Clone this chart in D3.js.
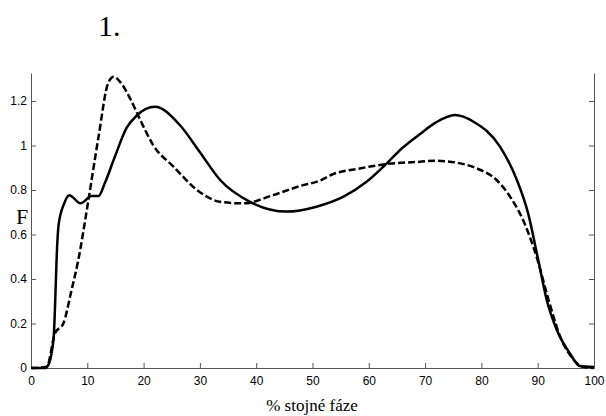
<!DOCTYPE html>
<meta charset="utf-8">
<style>
    body { margin: 0; background: #fff; }
    .tick text { font: 12px "Liberation Sans", Arial, sans-serif; fill: #000; }
</style>
<script src="https://d3js.org/d3.v7.min.js"></script>
<svg id="chart" width="606" height="416"></svg>
<script>

// solid curve (x = % of stance phase)
var solidX = [0, 2.5, 3, 4, 4.7, 4.9, 5.9, 6.8, 8.8, 10.8, 12, 13.1, 14.9, 17, 18.8, 22, 26.5, 30, 33.6, 38.9, 45.4, 50.7, 55.5, 59.6, 63.2, 66, 69, 72, 75.3, 78.6, 83.3, 86.3, 88.3, 90.1, 91.6, 93.4, 95.7, 97.5, 100];
var solidY = [0, 0, 0.01, 0.13, 0.575, 0.643, 0.74, 0.777, 0.74, 0.773, 0.773, 0.83, 0.95, 1.08, 1.135, 1.174, 1.09, 0.97, 0.845, 0.747, 0.703, 0.725, 0.77, 0.837, 0.92, 0.99, 1.05, 1.105, 1.137, 1.107, 0.995, 0.845, 0.695, 0.485, 0.306, 0.171, 0.066, 0.009, 0.005];

// dashed curve
var dashX = [0, 2.8, 4.26, 5.74, 7.2, 8.4, 10.2, 12, 13.7, 14.7, 15.8, 17.6, 19.4, 21.7, 25.3, 30, 33.6, 37.7, 43, 47.8, 51.3, 53.7, 58.4, 63.2, 69.1, 71.5, 75.6, 79.2, 82.7, 85.1, 87.4, 89.8, 92, 94, 96, 98, 100];
var dashY = [0, 0.006, 0.156, 0.2, 0.35, 0.485, 0.755, 1.04, 1.28, 1.309, 1.287, 1.212, 1.115, 1.002, 0.905, 0.79, 0.747, 0.74, 0.777, 0.818, 0.842, 0.872, 0.897, 0.917, 0.927, 0.932, 0.923, 0.897, 0.845, 0.77, 0.665, 0.5, 0.3, 0.14, 0.05, 0.005, 0];

var xTicks = [0, 10, 20, 30, 40, 50, 60, 70, 80, 90, 100];
var yTicks = [0, 0.2, 0.4, 0.6, 0.8, 1, 1.2];

var svg = d3.select("#chart");
var mLeft = 31, mRight = 594, mTop = 73, mBottom = 368;
var serif = '"Liberation Serif", "Times New Roman", serif';

var x = d3.scaleLinear().domain([0, 100]).range([mLeft, mRight]);
var y = d3.scaleLinear().domain([0, 1.326]).range([mBottom, mTop]);

function greyAxis(g) {
    g.select(".domain").attr("stroke", "#555");
    g.selectAll(".tick line").attr("stroke", "#555");
}

// axes, ticks pointing inward
svg.append("g")
    .attr("transform", "translate(0," + mBottom + ")")
    .call(d3.axisBottom(x).tickValues(xTicks).tickSizeInner(-5).tickSizeOuter(0).tickPadding(8))
    .call(greyAxis);

svg.append("g")
    .attr("transform", "translate(" + mLeft + ",0)")
    .call(d3.axisLeft(y).tickValues(yTicks).tickFormat(function(d) { return d; }).tickSizeInner(-5).tickSizeOuter(0).tickPadding(4))
    .call(greyAxis);

svg.append("g")
    .attr("transform", "translate(" + mRight + ",0)")
    .call(d3.axisRight(y).tickValues(yTicks).tickFormat("").tickSizeInner(-5).tickSizeOuter(0))
    .call(greyAxis);

var line = d3.line()
    .x(function(d) { return x(d[0]); })
    .y(function(d) { return y(d[1]); })
    .curve(d3.curveMonotoneX);

svg.append("path")
    .datum(dashX.map(function(v, i) { return [v, dashY[i]]; }))
    .attr("fill", "none")
    .attr("stroke", "#000")
    .attr("stroke-width", 2.5)
    .attr("stroke-dasharray", "7,3")
    .attr("d", line);

svg.append("path")
    .datum(solidX.map(function(v, i) { return [v, solidY[i]]; }))
    .attr("fill", "none")
    .attr("stroke", "#000")
    .attr("stroke-width", 2.5)
    .attr("d", line);

// texts
svg.append("text")
    .attr("x", 98).attr("y", 36)
    .style("font-family", serif).style("font-size", "30px")
    .text("1.");

svg.append("text")
    .attr("x", 16).attr("y", 224)
    .style("font-family", serif).style("font-size", "22px")
    .text("F");

svg.append("text")
    .attr("x", 312).attr("y", 411)
    .attr("text-anchor", "middle")
    .style("font-family", serif).style("font-size", "17px")
    .text("% stojné fáze");

</script>
